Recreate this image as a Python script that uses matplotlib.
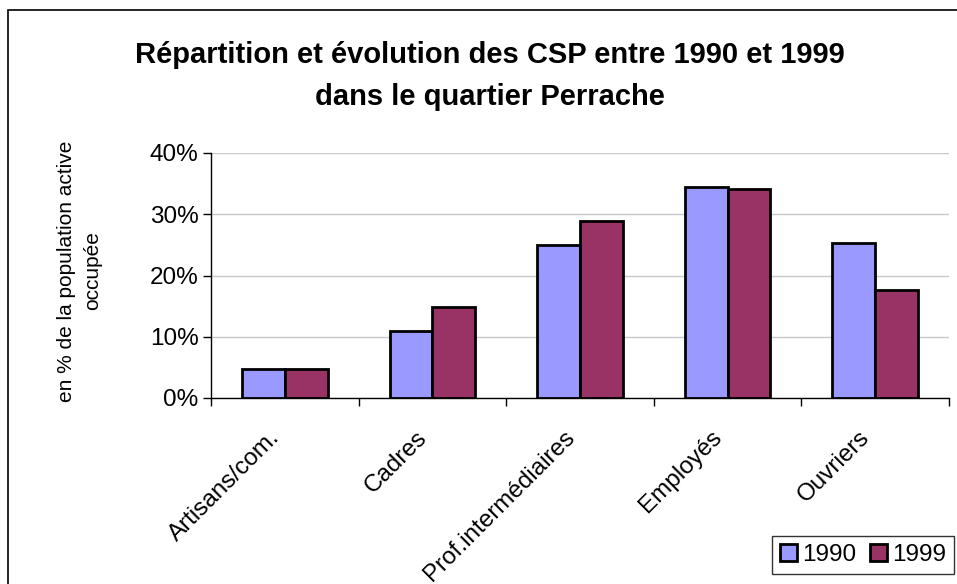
import matplotlib.pyplot as plt
import matplotlib.patches as mpatches
import matplotlib.ticker as mticker
import numpy as np

plt.rcParams['font.family'] = ['Liberation Sans', 'DejaVu Sans']

# data (% of working population)
categories = ['Artisans/com.', 'Cadres', 'Prof.intermédiaires', 'Employés', 'Ouvriers']
values_1990 = [4.8, 11.0, 24.9, 34.4, 25.3]
values_1999 = [4.8, 14.9, 28.9, 34.1, 17.7]
years = ['1990', '1999']
colors = ['#9999FF', '#993366']

fig = plt.figure(figsize=(9.57, 5.84), dpi=100)
ax = fig.add_axes([211 / 957, 1 - 398 / 584, (949 - 211) / 957, (398 - 153) / 584])

# outer frame of the chart (cropped on right/bottom)
fig.patches.append(mpatches.Rectangle((8 / 957, -0.1), 1.2, 1.1 - 10 / 584,
                                      transform=fig.transFigure, fill=False,
                                      edgecolor='black', linewidth=1.2))

x = np.arange(len(categories))
w = 0.29
ax.bar(x - w / 2, values_1990, w, color=colors[0], edgecolor='black', linewidth=2,
       label=years[0], zorder=3)
ax.bar(x + w / 2, values_1999, w, color=colors[1], edgecolor='black', linewidth=2,
       label=years[1], zorder=3)

ax.set_xlim(-0.5, len(categories) - 0.5)
ax.set_ylim(0, 40)
ax.set_yticks([0, 10, 20, 30, 40])
ax.yaxis.set_major_formatter(mticker.FuncFormatter(lambda v, p: f'{v:.0f}%'))
ax.tick_params(axis='y', labelsize=17.5, length=6, width=1, direction='out', pad=3)
ax.grid(axis='y', color='#c8c8c8', linewidth=1, zorder=0)

# category boundaries as x ticks
ax.set_xticks(np.arange(-0.5, len(categories)), minor=False)
ax.set_xticklabels([])
ax.tick_params(axis='x', length=6, width=1, direction='out')
for xi, lab in zip(x, categories):
    ax.text(xi - 0.06, -5.9, lab, rotation=45, ha='right', va='center',
            rotation_mode='anchor', fontsize=17.5)

for s in ['top', 'right']:
    ax.spines[s].set_visible(False)
for s in ['left', 'bottom']:
    ax.spines[s].set_linewidth(1)

fig.text(67 / 957, 1 - 271 / 584, 'en % de la population active', rotation=90,
         ha='center', va='center', fontsize=15)
fig.text(93 / 957, 1 - 271 / 584, 'occupée', rotation=90,
         ha='center', va='center', fontsize=15)

fig.text(490 / 957, 1 - 55 / 584, 'Répartition et évolution des CSP entre 1990 et 1999',
         ha='center', va='center', fontsize=21, fontweight='bold')
fig.text(490 / 957, 1 - 97 / 584, 'dans le quartier Perrache',
         ha='center', va='center', fontsize=21, fontweight='bold')

leg = fig.legend(loc='upper left', bbox_to_anchor=(772 / 957, 1 - 536 / 584),
                 ncol=2, fontsize=17.5, frameon=True, fancybox=False,
                 handlelength=0.7, handleheight=0.7, handletextpad=0.22,
                 columnspacing=0.55, borderpad=0.33, borderaxespad=0)
leg.get_frame().set_edgecolor('black')
leg.get_frame().set_linewidth(1)
for h in leg.legend_handles:
    h.set_linewidth(2)

fig.savefig('out.png', dpi=100)
